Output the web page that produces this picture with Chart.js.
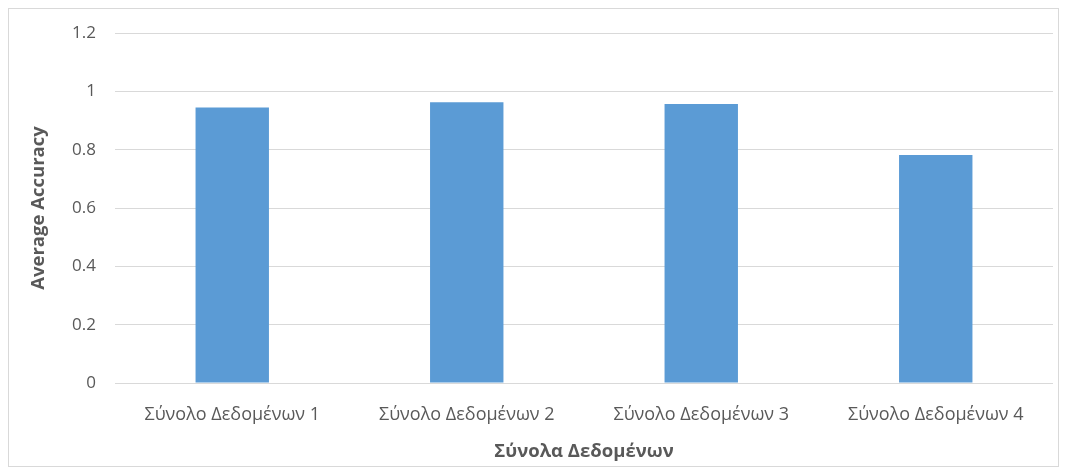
<!DOCTYPE html>
<html>
<head>
<meta charset="utf-8">
<script src="https://cdn.jsdelivr.net/npm/chart.js@4"></script>
<style>
  html, body { margin: 0; padding: 0; background: #ffffff; }
  #wrap { width: 1067px; height: 475px; position: relative; }
</style>
</head>
<body>
<div id="wrap"><canvas id="chart" width="1067" height="475"></canvas></div>
<script>
// Categories and averaged accuracy per dataset
const categories = ['Σύνολο Δεδομένων 1', 'Σύνολο Δεδομένων 2', 'Σύνολο Δεδομένων 3', 'Σύνολο Δεδομένων 4'];
const accuracy = [0.945, 0.963, 0.957, 0.782];
const yTicks = [0, 0.2, 0.4, 0.6, 0.8, 1, 1.2];

const FONT = "'Open Sans', 'Liberation Sans', sans-serif";
const GRID = '#d9d9d9';
const TEXT = '#595959';

// Thin light frame around the whole chart
const frame = {
  id: 'frame',
  beforeDraw(chart) {
    const ctx = chart.ctx;
    ctx.save();
    ctx.fillStyle = '#ffffff';
    ctx.fillRect(0, 0, chart.width, chart.height);
    ctx.strokeStyle = GRID;
    ctx.lineWidth = 1;
    ctx.strokeRect(8.5, 8.5, chart.width - 17, chart.height - 17);
    ctx.restore();
  }
};

new Chart(document.getElementById('chart'), {
  type: 'bar',
  data: {
    labels: categories,
    datasets: [{
      data: accuracy,
      backgroundColor: '#5b9bd5',
      borderWidth: 0,
      barPercentage: 1,
      categoryPercentage: 0.313
    }]
  },
  options: {
    responsive: false,
    animation: false,
    layout: { padding: { left: 8, top: 33, right: 14, bottom: 8 } },
    plugins: { legend: { display: false }, tooltip: { enabled: false } },
    scales: {
      x: {
        grid: { display: false },
        border: { display: false },
        ticks: { color: TEXT, font: { family: FONT, size: 18 }, padding: 13, maxRotation: 0 },
        title: { display: true, text: 'Σύνολα Δεδομένων', color: TEXT, font: { family: FONT, size: 18.5, weight: 'bold' }, padding: { top: 11 } },
        afterFit(s) { s.height = 84; }
      },
      y: {
        min: 0,
        max: 1.2,
        afterBuildTicks(s) { s.ticks = yTicks.map(v => ({ value: v })); },
        grid: { color: GRID, lineWidth: 1, drawTicks: false },
        border: { display: false },
        ticks: {
          color: TEXT,
          font: { family: FONT, size: 17 },
          padding: 19,
          callback: v => String(Math.round(v * 10) / 10)
        },
        title: { display: true, text: 'Average Accuracy', color: TEXT, font: { family: FONT, size: 18.5, weight: 'bold' }, padding: { bottom: 0, top: 20 } },
        afterFit(s) { s.width = 107; }
      }
    }
  },
  plugins: [frame]
});
</script>
</body>
</html>
